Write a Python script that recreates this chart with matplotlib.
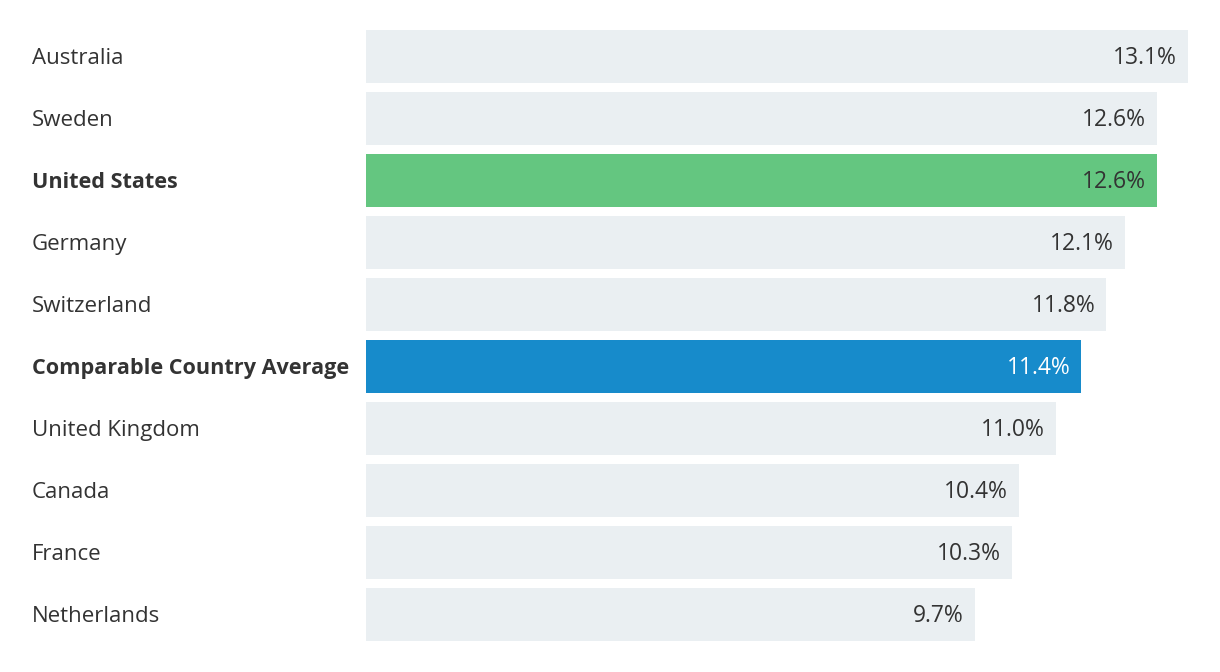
import matplotlib
matplotlib.use("Agg")
import matplotlib.pyplot as plt
from matplotlib.transforms import offset_copy

countries = ["Australia", "Sweden", "United States", "Germany", "Switzerland",
             "Comparable Country Average", "United Kingdom", "Canada", "France",
             "Netherlands"]
values = [13.1, 12.6, 12.6, 12.1, 11.8, 11.4, 11.0, 10.4, 10.3, 9.7]
highlight = {"United States": "#64c680", "Comparable Country Average": "#178bcb"}

plt.rcParams["font.family"] = ["Open Sans", "DejaVu Sans"]

W, H = 1220, 672
fig = plt.figure(figsize=(W / 100, H / 100), dpi=100)
fig.patch.set_facecolor("white")

# bar area in pixels: x 366..1188, y 30..641
ax = fig.add_axes([366 / W, 1 - 641 / H, (1188 - 366) / W, (641 - 30) / H])
bar_h = 53 / 62

colors = [highlight.get(c, "#eaeff2") for c in countries]
ypos = list(range(len(countries)))
ax.barh(ypos, values, height=bar_h, color=colors, edgecolor="none")
ax.set_xlim(0, max(values))
ax.set_ylim(len(countries) - 1 + bar_h / 2, -bar_h / 2)
ax.axis("off")

label_tr = offset_copy(ax.get_yaxis_transform(), fig=fig, x=-334, y=-2, units="dots")
for i, (c, v) in enumerate(zip(countries, values)):
    bold = c in highlight
    # country label on the left
    ax.text(0, i, c, ha="left", va="center", transform=label_tr,
            fontsize=15.6 if bold else 16, color="#333333",
            fontweight="bold" if bold else "normal")
    txt_color = "white" if c == "Comparable Country Average" else "#333333"
    tr = offset_copy(ax.transData, fig=fig, x=-11, y=-2, units="dots")
    ax.text(v, i, f"{v:.1f}%", ha="right", va="center", fontsize=16.5,
            color=txt_color, transform=tr)

fig.savefig("out.png", dpi=100, facecolor="white")
